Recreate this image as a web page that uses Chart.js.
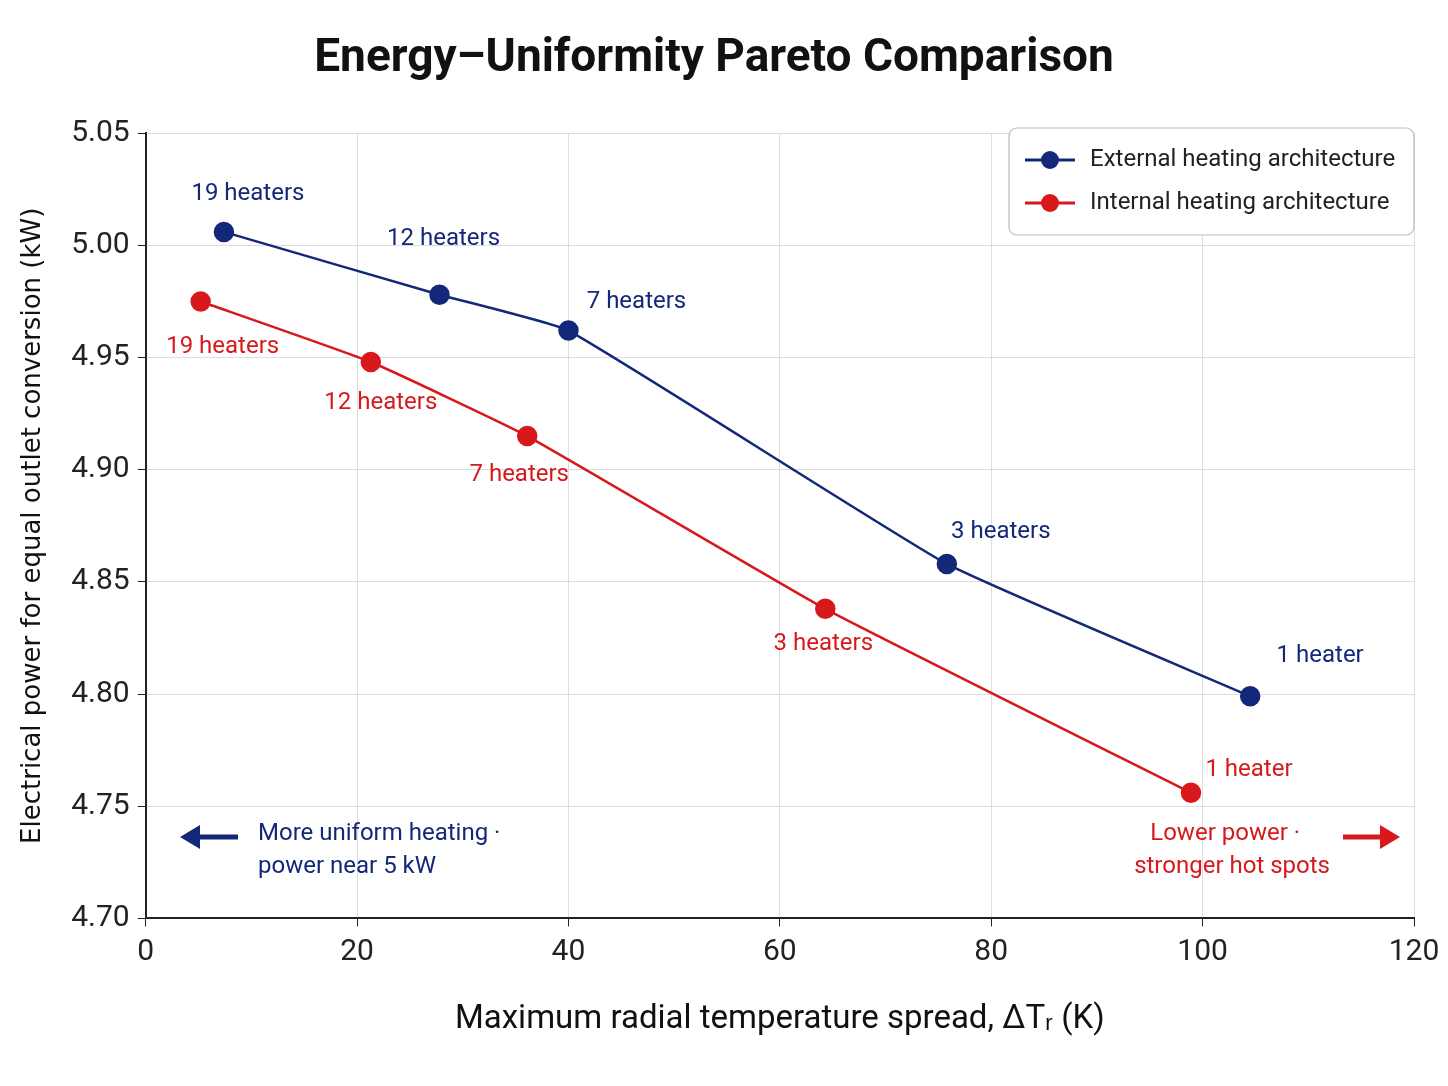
<!DOCTYPE html>
<html>
<head>
<meta charset="utf-8">
<script src="https://cdn.jsdelivr.net/npm/chart.js@4/dist/chart.umd.min.js"></script>
<style>
  body { margin: 0; background: #fff; }
  #wrap { width: 1448px; height: 1086px; }
</style>
</head>
<body>
<div id="wrap"><canvas id="chart"></canvas></div>
<script>
// Pareto data
const externalX = [7.4, 27.8, 40.0, 75.8, 104.5];
const externalY = [5.006, 4.978, 4.962, 4.858, 4.799];
const internalX = [5.2, 21.3, 36.1, 64.3, 98.9];
const internalY = [4.975, 4.948, 4.915, 4.838, 4.756];
const heaterLabels = ['19 heaters', '12 heaters', '7 heaters', '3 heaters', '1 heater'];
const seriesNames = ['External heating architecture', 'Internal heating architecture'];

const BLUE = '#14287a';
const RED = '#d7191c';
const FONT = "'Roboto', sans-serif";

// label offsets relative to points (px)
const extOffsets = [[24, -38], [4, -56], [68, -29], [54, -32], [70, -40]];
const intOffsets = [[22, 46], [10, 41], [-8, 39], [-2, 35], [58, -23]];

const toPts = (xs, ys) => xs.map((x, i) => ({ x: x, y: ys[i] }));

const decor = {
    id: 'decor',
    afterDatasetsDraw(chart) {
        const ctx = chart.ctx;
        ctx.save();
        ctx.font = '24px ' + FONT;
        ctx.textAlign = 'center';
        ctx.textBaseline = 'middle';
        [[0, extOffsets, BLUE], [1, intOffsets, RED]].forEach(([di, offs, col]) => {
            const meta = chart.getDatasetMeta(di);
            ctx.fillStyle = col;
            meta.data.forEach((p, i) => {
                ctx.fillText(heaterLabels[i], p.x + offs[i][0], p.y + offs[i][1]);
            });
        });

        // legend box
        const lx = 1009, ly = 128, lw = 405, lh = 107;
        ctx.fillStyle = 'rgba(255,255,255,0.95)';
        ctx.strokeStyle = '#bbbbbb';
        ctx.lineWidth = 1.2;
        ctx.beginPath();
        ctx.roundRect(lx, ly, lw, lh, 8);
        ctx.fill();
        ctx.stroke();
        [[BLUE, 160], [RED, 203]].forEach(([col, yy], i) => {
            ctx.strokeStyle = col;
            ctx.lineWidth = 3;
            ctx.beginPath();
            ctx.moveTo(1025, yy);
            ctx.lineTo(1075, yy);
            ctx.stroke();
            ctx.fillStyle = col;
            ctx.beginPath();
            ctx.arc(1050, yy, 9, 0, Math.PI * 2);
            ctx.fill();
            ctx.fillStyle = '#222';
            ctx.textAlign = 'left';
            ctx.font = '24px ' + FONT;
            ctx.fillText(seriesNames[i], 1090, yy);
        });

        // direction annotations
        const arrow = (x1, x2, y, col) => {
            const dir = Math.sign(x2 - x1);
            ctx.strokeStyle = col;
            ctx.fillStyle = col;
            ctx.lineWidth = 5;
            ctx.beginPath();
            ctx.moveTo(x1, y);
            ctx.lineTo(x2 - dir * 14, y);
            ctx.stroke();
            ctx.beginPath();
            ctx.moveTo(x2, y);
            ctx.lineTo(x2 - dir * 20, y - 12);
            ctx.lineTo(x2 - dir * 20, y + 12);
            ctx.closePath();
            ctx.fill();
        };
        arrow(238, 180, 837, BLUE);
        arrow(1343, 1400, 837, RED);
        ctx.font = '24px ' + FONT;
        ctx.textAlign = 'left';
        ctx.fillStyle = BLUE;
        ctx.fillText('More uniform heating \u00b7', 258, 834);
        ctx.fillText('power near 5 kW', 258, 867);
        ctx.textAlign = 'right';
        ctx.fillStyle = RED;
        ctx.fillText('Lower power \u00b7', 1300, 834);
        ctx.fillText('stronger hot spots', 1330, 867);
        ctx.restore();
    }
};

new Chart(document.getElementById('chart'), {
    type: 'line',
    data: {
        datasets: [
            {
                label: seriesNames[0],
                data: toPts(externalX, externalY),
                borderColor: BLUE,
                backgroundColor: BLUE,
                borderWidth: 2.5,
                pointRadius: 9,
                tension: 0.12
            },
            {
                label: seriesNames[1],
                data: toPts(internalX, internalY),
                borderColor: RED,
                backgroundColor: RED,
                borderWidth: 2.5,
                pointRadius: 9,
                tension: 0.12
            }
        ]
    },
    options: {
        responsive: true,
        maintainAspectRatio: false,
        animation: false,
        layout: { padding: { left: 14, right: 34, top: 10, bottom: 42 } },
        plugins: {
            legend: { display: false },
            tooltip: { enabled: false },
            title: {
                display: true,
                text: 'Energy\u2013Uniformity Pareto Comparison',
                color: '#111',
                font: { family: FONT, size: 46, weight: 'bold' },
                padding: { top: 22, bottom: 46 }
            }
        },
        scales: {
            x: {
                type: 'linear',
                min: 0,
                max: 120,
                ticks: { stepSize: 20, color: '#222', font: { family: FONT, size: 30 }, padding: 8 },
                grid: { color: '#dddddd', tickLength: 8, tickColor: '#222' },
                border: { color: '#222', width: 2 },
                title: {
                    display: true,
                    text: 'Maximum radial temperature spread, \u0394T\u1d63 (K)',
                    color: '#111',
                    font: { family: FONT, size: 33 },
                    padding: { top: 22 }
                }
            },
            y: {
                min: 4.70,
                max: 5.05,
                ticks: {
                    stepSize: 0.05,
                    color: '#222',
                    font: { family: FONT, size: 30 },
                    padding: 8,
                    callback: v => v.toFixed(2)
                },
                grid: { color: '#dddddd', tickLength: 8, tickColor: '#222' },
                border: { color: '#222', width: 2 },
                title: {
                    display: true,
                    text: 'Electrical power for equal outlet conversion (kW)',
                    color: '#111',
                    font: { family: "'DejaVu Sans', sans-serif", size: 26 },
                    padding: { bottom: 14 }
                }
            }
        }
    },
    plugins: [decor]
});
</script>
</body>
</html>
